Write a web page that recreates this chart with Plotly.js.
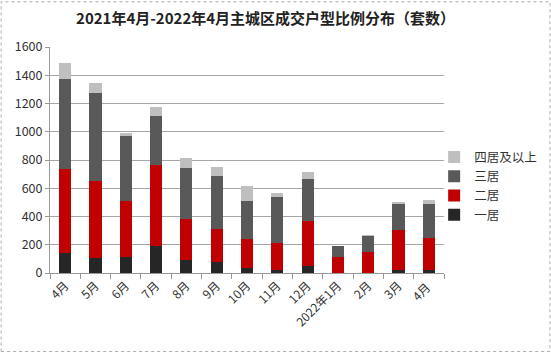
<!DOCTYPE html>
<html>
<head>
<meta charset="utf-8">
<script src="https://cdn.plot.ly/plotly-3.0.1.min.js"></script>
<style>html,body{margin:0;padding:0;background:#fff;}#chart{width:551px;height:353px;}</style>
</head>
<body>
<div id="chart"></div>
<script>
const categories = ["4月","5月","6月","7月","8月","9月","10月","11月","12月","2022年1月","2月","3月","4月 "];
const oneRoom   = [139,106,113,191, 89, 81, 33, 19, 47,  3,  3, 24, 24];
const twoRoom   = [600,548,400,576,292,234,209,190,318,108,149,279,227];
const threeRoom = [633,621,459,348,365,372,267,327,303, 79,109,185,235];
const fourPlus  = [115, 73, 21, 61, 66, 64,107, 28, 50,  3,  9, 14, 31];
const seriesNames = ["一居","二居","三居","四居及以上"];
const colors = ["#262626","#c00000","#595959","#bfbfbf"];
const tickVals = [0,200,400,600,800,1000,1200,1400,1600];

const font = "Noto Sans CJK SC, Noto Sans, sans-serif";
const data = [oneRoom, twoRoom, threeRoom, fourPlus].map((vals, i) => ({
  type: "bar",
  name: seriesNames[i],
  x: categories,
  y: vals,
  marker: {color: colors[i], line: {width: 0}},
  hoverinfo: "x+y+name"
}));

const layout = {
  width: 551, height: 353,
  margin: {l: 50, r: 107, t: 47, b: 80, autoexpand: false},
  paper_bgcolor: "#fff", plot_bgcolor: "#fff",
  barmode: "stack",
  bargap: 0.6,
  font: {family: font, size: 12, color: "#333"},
  title: {text: "2021年4月-2022年4月主城区成交户型比例分布（套数）", x: 0.482, xanchor: "center", y: 0.946, yanchor: "middle",
          font: {family: font, size: 15, color: "#222", weight: "bold"}},
  xaxis: {type: "category", tickangle: -45, showgrid: false, showline: true, linecolor: "#999", linewidth: 1,
          ticks: "outside", ticklen: 5, tickcolor: "#999", tickson: "boundaries",
          tickfont: {family: font, size: 12, color: "#333"}},
  yaxis: {range: [0, 1600], tickvals: tickVals, showgrid: true, gridcolor: "#a6a6a6", gridwidth: 1,
          showline: true, linecolor: "#999", linewidth: 1, ticks: "outside", ticklen: 4, tickcolor: "#999",
          zeroline: false, tickfont: {family: font, size: 12.5, color: "#333"}},
  legend: {x: 0.975, xanchor: "left", y: 0.385, yanchor: "middle", traceorder: "reversed",
           font: {family: font, size: 12.5, color: "#333"}, bgcolor: "rgba(0,0,0,0)", tracegroupgap: 0},
  shapes: [{type: "rect", xref: "paper", yref: "paper", x0: -0.124, x1: 1.269, y0: -0.347, y1: 1.2,
            line: {color: "#aaa", width: 1, dash: "dot"}, fillcolor: "rgba(0,0,0,0)", layer: "below"}],
  showlegend: true
};

Plotly.newPlot("chart", data, layout, {displayModeBar: false, staticPlot: true});
</script>
</body>
</html>
